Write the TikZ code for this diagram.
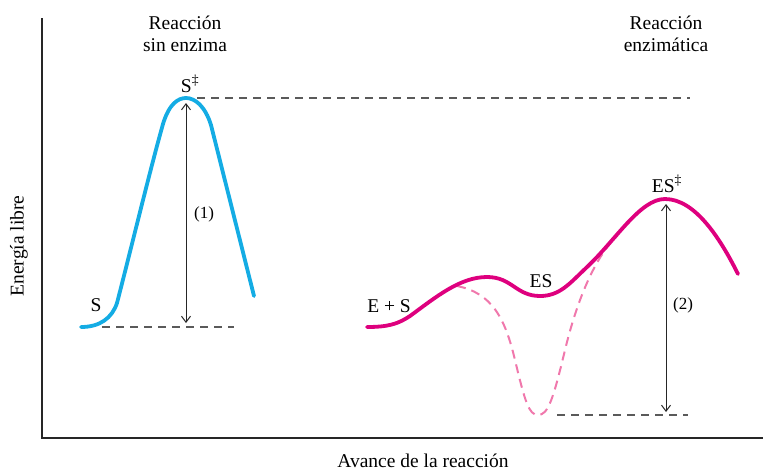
\documentclass[tikz,border=0pt]{standalone}
\usepackage{fontspec}
\setmainfont{Liberation Serif}
\usetikzlibrary{arrows.meta}
\definecolor{cblue}{RGB}{20,172,228}
\definecolor{cmag}{RGB}{222,0,126}
\definecolor{cpink}{RGB}{240,120,172}
\definecolor{cgray}{RGB}{90,90,90}
\begin{document}
\begin{tikzpicture}[x=1pt,y=-1pt,
  lbl/.style={inner sep=0pt,font=\fontsize{19.5}{22}\selectfont,align=center},
  small/.style={inner sep=0pt,font=\fontsize{17}{20}\selectfont},
  guide/.style={cgray,line width=1.2pt,dash pattern=on 8pt off 6pt},
  energy/.style={<->,>={Straight Barb[length=6pt,width=9pt]},line width=1pt,black!85},
  axis/.style={line width=2.2pt,black!85}]
\useasboundingbox (0,0) rectangle (763,472);
% axes
\coordinate (ytop) at (42,18);
\coordinate (orig) at (42,438);
\coordinate (xend) at (763,438);
\draw[axis] (ytop) -- (orig) -- (xend);
\node[lbl,rotate=90] (ylab) at (19,246) {Energía libre};
\node[lbl] (xlab) at (423,461) {Avance de la reacción};
\node[lbl] (t1) at (185,34) {Reacción\\sin enzima};
\node[lbl] (t2) at (666,34) {Reacción\\enzimática};
% guides
\coordinate (g1a) at (197,98); \coordinate (g1b) at (690,98);
\coordinate (g2a) at (102,327); \coordinate (g2b) at (234,327);
\coordinate (g3a) at (557,415); \coordinate (g3b) at (688,415);
\draw[guide] (g1a) -- (g1b);
\draw[guide] (g2a) -- (g2b);
\draw[guide] (g3a) -- (g3b);
% blue curve
\draw[cblue,line width=3.8pt,line cap=round]
  (81,327) .. controls (100,327) and (112,318) .. (117,303)
  .. controls (132,245) and (150,170) .. (163,124)
  .. controls (169,104) and (178,98) .. (186,98)
  .. controls (195,98) and (205,106) .. (211,125) -- (254,296);
% magenta dashed
\draw[cpink,line width=2pt,dash pattern=on 9pt off 6pt]
  (457,286) .. controls (492,293) and (505,318) .. (515,360)
  .. controls (525,402) and (529,415) .. (538,415)
  .. controls (548,415) and (553,400) .. (565,350)
  .. controls (580,288) and (600,252) .. (617,236);
% magenta curve
\draw[cmag,line width=3.8pt,line cap=round]
  (367,327) .. controls (388,327) and (398,324) .. (410,316)
  .. controls (436,297) and (460,277) .. (487,277)
  .. controls (512,277) and (516,296) .. (540,296)
  .. controls (560,296) and (570,283) .. (586,268)
  .. controls (616,240) and (640,199) .. (665,199)
  .. controls (695,199) and (720,238) .. (738,274);
% energy arrows
\coordinate (a1t) at (186,103); \coordinate (a1b) at (186,323);
\coordinate (a2t) at (666,204); \coordinate (a2b) at (666,412);
\draw[energy] (a1t) -- (a1b);
\draw[energy] (a2t) -- (a2b);
\node[small] (n1) at (204,214) {(1)};
\node[small] (n2) at (683,305) {(2)};
% labels
\node[lbl] (Sdag) at (190,84) {S\textsuperscript{‡}};
\node[lbl] (S) at (96,305) {S};
\node[lbl] (ESdag) at (667,184) {ES\textsuperscript{‡}};
\node[lbl] (ES) at (541,281) {ES};
\node[lbl] (EpS) at (389,306) {E + S};
\end{tikzpicture}
\end{document}
